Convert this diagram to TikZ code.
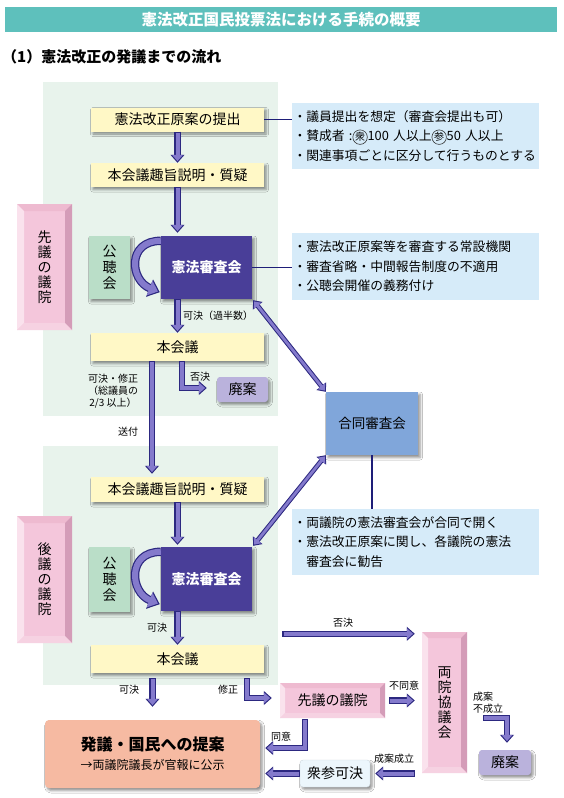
\documentclass[tikz,border=0pt]{standalone}
\usepackage{fontspec}
\setmainfont{Noto Sans CJK JP}
\usetikzlibrary{arrows.meta,positioning,shadows,shadows.blur,calc}

\definecolor{titleteal}{RGB}{94,192,188}
\definecolor{panelgreen}{RGB}{232,243,236}
\definecolor{stepyellow}{RGB}{255,248,198}
\definecolor{shinsa}{RGB}{73,62,152}
\definecolor{kocho}{RGB}{186,222,200}
\definecolor{infoblue}{RGB}{214,235,249}
\definecolor{linenavy}{RGB}{30,30,120}
\definecolor{arrfill}{RGB}{132,122,204}
\definecolor{arrline}{RGB}{44,40,128}
\definecolor{haian}{RGB}{186,178,220}
\definecolor{godo}{RGB}{128,166,218}
\definecolor{hatsugi}{RGB}{246,186,162}
\definecolor{shusan}{RGB}{236,246,252}
\definecolor{pinkface}{RGB}{244,198,219}
\definecolor{pinkleft}{RGB}{250,226,237}
\definecolor{pinktop}{RGB}{238,186,208}
\definecolor{pinkright}{RGB}{212,156,184}
\definecolor{pinkbot}{RGB}{246,210,226}

\newcommand{\jfs}[2]{\fontsize{#1pt}{#2pt}\selectfont}
% circled kanji for the two houses
\newcommand{\maru}[1]{\tikz[baseline=(m.base)]\node[shape=circle, draw=black!80, fill=none, line width=0.6pt,
  minimum size=14.5pt, text width=, align=center, inner sep=0pt, outer sep=0pt, text=black,
  font=\jfs{10}{10}](m){#1};}

\tikzset{
  softshadow/.style={blur shadow={shadow xshift=2pt,shadow yshift=-2.5pt,shadow blur radius=2.5pt,shadow opacity=45}},
  panel/.style={fill=panelgreen, inner sep=0pt, anchor=north west},
  stepbox/.style={fill=stepyellow, minimum width=173pt, minimum height=24pt, inner sep=0pt, font=\jfs{14}{14}, softshadow},
  shinsabox/.style={fill=shinsa, text=white, minimum width=91pt, minimum height=63pt, inner sep=0pt, font=\jfs{14}{14}\bfseries, softshadow},
  kochobox/.style={fill=kocho, minimum width=41pt, minimum height=63pt, inner sep=0pt, align=center, font=\jfs{14}{16}, softshadow},
  infobox/.style={fill=infoblue, minimum width=247pt, text width=244pt, inner xsep=1.5pt, inner ysep=0pt, align=left, font=\jfs{12.8}{19.5}},
  haianbox/.style={fill=haian, rounded corners=3pt, minimum width=51pt, minimum height=25pt, inner sep=0pt, font=\jfs{14}{14}, softshadow},
  bevel/.style={fill=pinkface, inner sep=0pt, path picture={
      \coordinate (bnw) at (path picture bounding box.north west);
      \coordinate (bne) at (path picture bounding box.north east);
      \coordinate (bse) at (path picture bounding box.south east);
      \coordinate (bsw) at (path picture bounding box.south west);
      \fill[pinktop] (bnw) -- (bne) -- ([xshift=-#1,yshift=-#1]bne) -- ([xshift=#1,yshift=-#1]bnw) -- cycle;
      \fill[pinkleft] (bnw) -- ([xshift=#1,yshift=-#1]bnw) -- ([xshift=#1,yshift=#1]bsw) -- (bsw) -- cycle;
      \fill[pinkright] (bne) -- (bse) -- ([xshift=-#1,yshift=#1]bse) -- ([xshift=-#1,yshift=-#1]bne) -- cycle;
      \fill[pinkbot] (bsw) -- (bse) -- ([xshift=-#1,yshift=#1]bse) -- ([xshift=#1,yshift=#1]bsw) -- cycle;
    }},
  bevel/.default=6pt,
  lbl/.style={font=\jfs{10}{12}, inner sep=0pt, align=center},
  link/.style={draw=linenavy, line width=1.3pt},
  barrow/.style={draw=arrfill, line width=4pt, line join=miter, shorten <=1.1pt, shorten >=1.7pt,
    -{Triangle[width=10.7pt,length=6.3pt]},
    preaction={draw=arrline, line width=6.2pt, shorten <=0pt, shorten >=0pt, -{Triangle[width=13.6pt,length=8pt]}}},
  biarrow/.style={draw=arrfill, line width=2.8pt, shorten <=1.6pt, shorten >=1.6pt,
    {Triangle[width=9.4pt,length=5.6pt]}-{Triangle[width=9.4pt,length=5.6pt]},
    preaction={draw=arrline, line width=4.8pt, shorten <=0pt, shorten >=0pt,
      {Triangle[width=12pt,length=7.2pt]}-{Triangle[width=12pt,length=7.2pt]}}},
  looparrow/.style={draw=arrfill, line width=6pt, shorten >=1.9pt, -{Triangle[width=14.9pt,length=9.1pt]},
    preaction={draw=arrline, line width=8.4pt, shorten >=0pt, -{Triangle[width=18pt,length=11pt]}}},
}

\begin{document}
\begin{tikzpicture}[x=1pt,y=-1pt]
  \useasboundingbox[fill=white] (0,0) rectangle (563,798);
  % title and heading
  \node[fill=titleteal, minimum width=552pt, minimum height=25pt, inner sep=0pt, text=white, font=\jfs{15.5}{15.5}\bfseries] (title) at (281,19.5) {憲法改正国民投票法における手続の概要};
  \node[anchor=west, inner sep=0pt, font=\jfs{15}{15}\bfseries] (heading) at (2,57) {（1）憲法改正の発議までの流れ};

  % panels of the two houses
  \node[panel, minimum width=235pt, minimum height=334pt] (senpanel) at (43,82) {};
  \node[panel, minimum width=235pt, minimum height=239pt] (kopanel) at (43,446) {};
  \node[bevel=7pt, minimum width=55pt, minimum height=126pt, align=center, font=\jfs{14}{15}] (senin) at (44.5,267) {先\\議\\の\\議\\院};
  \node[bevel=7pt, minimum width=55pt, minimum height=127pt, align=center, font=\jfs{14}{15}] (koin) at (44.5,579.5) {後\\議\\の\\議\\院};

  % first house
  \node[stepbox] (teian) at (177.5,119.5) {憲法改正原案の提出};
  \node[stepbox] (shushi1) at (177.5,175) {本会議趣旨説明・質疑};
  \node[kochobox] (kocho1) at (109.5,267.5) {公\\聴\\会};
  \node[shinsabox] (shinsa1) at (206.5,267.5) {憲法審査会};
  \node[stepbox, minimum height=28pt] (honkai1) at (177.5,347) {本会議};
  \node[haianbox] (haian1) at (242.5,389.5) {廃案};

  % notes
  \node[infobox, minimum height=66pt] (info1) at (415.5,136) {・議員提出を想定（審査会提出も可）\\・賛成者 :\maru{衆}100 人以上\maru{参}50 人以上\\・関連事項ごとに区分して行うものとする};
  \node[infobox, minimum height=67pt] (info2) at (415.5,266.5) {・憲法改正原案等を審査する常設機関\\・審査省略・中間報告制度の不適用\\・公聴会開催の義務付け};
  \node[fill=godo, minimum width=92pt, minimum height=63pt, inner sep=0pt, font=\jfs{13.5}{13.5}, softshadow] (godo) at (372,423.5) {合同審査会};
  \node[infobox, minimum height=66pt] (info3) at (415.5,542) {・両議院の憲法審査会が合同で開く\\・憲法改正原案に関し、各議院の憲法\\\phantom{・}審査会に勧告};

  % second house
  \node[stepbox, minimum height=25pt] (shushi2) at (177.5,489.5) {本会議趣旨説明・質疑};
  \node[kochobox, minimum height=65pt] (kocho2) at (109.5,579.5) {公\\聴\\会};
  \node[shinsabox, minimum height=64pt] (shinsa2) at (206.5,579) {憲法審査会};
  \node[stepbox, minimum height=28pt] (honkai2) at (177.5,659) {本会議};

  % after the second house
  \node[bevel=5pt, minimum width=105pt, minimum height=35pt, font=\jfs{14}{14}] (senin2) at (332.5,700.5) {先議の議院};
  \node[bevel=6pt, minimum width=45pt, minimum height=141pt, align=center, font=\jfs{14}{15}] (kyogi) at (444.5,702.5) {両\\院\\協\\議\\会};
  \node[haianbox, minimum width=52pt] (haian2) at (505,762.5) {廃案};
  \node[fill=shusan, draw=infoblue!80!black!60, rounded corners=3pt, minimum width=70pt, minimum height=27pt, inner sep=0pt, font=\jfs{14}{14}, softshadow] (shusan) at (335,773.5) {衆参可決};
  \node[fill=hatsugi, rounded corners=4pt, minimum width=215pt, minimum height=68pt, inner sep=0pt, align=center, softshadow] (hatsugi) at (152.5,754) {{\jfs{16}{16}\bfseries 発議・国民への提案}\\[7pt]{\jfs{12}{12}→両議院議長が官報に公示}};

  % note links
  \draw[link] (teian.east) -- (teian.east -| info1.west);
  \draw[link] (shinsa1.east) -- (shinsa1.east -| info2.west);
  \draw[link] (godo.south) -- (godo.south |- info3.north);

  % flow arrows
  \draw[barrow] (teian.south) -- (shushi1.north);
  \draw[barrow] (shushi1.south) -- ([yshift=3pt]shushi1.south |- shinsa1.north);
  \draw[barrow] (honkai1.north |- shinsa1.south) -- (honkai1.north);
  \draw[barrow] ([xshift=-25.5pt]honkai1.south) -- ([xshift=-25.5pt,yshift=3pt]shushi2.north);
  \draw[barrow] ([xshift=4.5pt]honkai1.south) |- ([xshift=-10pt,yshift=1.5pt]haian1.west);
  \draw[looparrow] ([yshift=-5pt]shinsa1.north west) .. controls +(-34,0) and +(-30,-12) .. ([xshift=-1pt,yshift=7pt]shinsa1.south west);
  \draw[biarrow] ([xshift=1pt,yshift=-1pt]shinsa1.south east) -- (godo.north west);
  \draw[biarrow] ([xshift=1pt,yshift=1pt]shinsa2.north east) -- (godo.south west);
  \draw[barrow] (shushi2.south) -- ([yshift=2pt]shushi2.south |- shinsa2.north);
  \draw[looparrow] ([yshift=-5pt]shinsa2.north west) .. controls +(-34,0) and +(-30,-12) .. ([xshift=-1pt,yshift=7pt]shinsa2.south west);
  \draw[barrow] (honkai2.north |- shinsa2.south) -- (honkai2.north);
  \draw[barrow] ([yshift=-5pt]hatsugi.north |- honkai2.south) -- ([yshift=13pt]hatsugi.north);
  \draw[barrow] ([xshift=69.5pt,yshift=-5pt]honkai2.south) |- ([xshift=-8pt,yshift=2.5pt]senin2.west);
  \draw[barrow] ([xshift=4pt,yshift=-2pt]kopanel.east |- kyogi.north) -- ([xshift=-7pt,yshift=-2pt]kyogi.north west);
  \draw[barrow] ([xshift=4pt]senin2.east) -- ([xshift=-7pt]kyogi.west |- senin2.east);
  \draw[barrow] ([xshift=16pt,yshift=-15.5pt]kyogi.east) -| ([xshift=2pt,yshift=7pt]haian2.north);
  \draw[barrow] ([xshift=-7pt]kyogi.west |- shusan.east) -- ([xshift=5pt]shusan.east);
  \draw[barrow] (shusan.west) -- ([xshift=5pt]hatsugi.east |- shusan.west);
  \draw[barrow] ([xshift=-27.5pt,yshift=-1pt]senin2.south) |- ([xshift=5pt,yshift=6pt]hatsugi.east);

  % arrow labels
  \node[lbl] (lkaketsu1) at (218,316) {可決（過半数）};
  \node[lbl] (lshusei1) at (113,391) {可決・修正\\（総議員の\\2/3 以上）};
  \node[lbl] (lsofu) at (128,432) {送付};
  \node[lbl] (lhiketsu1) at (200,377) {否決};
  \node[lbl] (lkaketsu2) at (157,628) {可決};
  \node[lbl] (lkaketsu3) at (129,690) {可決};
  \node[lbl] (lshusei2) at (228,690) {修正};
  \node[lbl] (lhiketsu2) at (343,623) {否決};
  \node[lbl] (lfudoi) at (404,686) {不同意};
  \node[lbl, anchor=west, align=left] (lfuseiritsu) at (473,703) {成案\\不成立};
  \node[lbl] (lseiritsu) at (394,759) {成案成立};
  \node[lbl] (ldoi) at (281,737) {同意};
\end{tikzpicture}
\end{document}
